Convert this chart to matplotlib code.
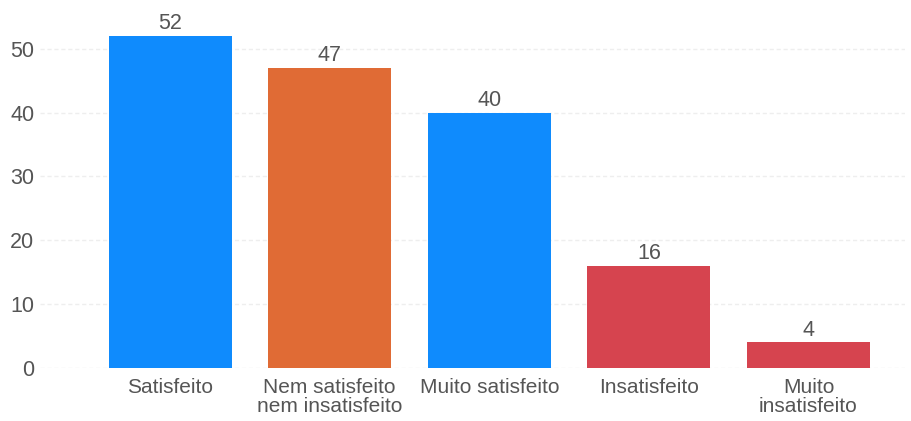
import matplotlib
matplotlib.use("Agg")
from matplotlib import pyplot as plt

categories = ["Satisfeito", "Nem satisfeito\nnem insatisfeito", "Muito satisfeito",
              "Insatisfeito", "Muito\ninsatisfeito"]
counts = [52, 47, 40, 16, 4]
colors = ["#0f8bfd", "#e06b35", "#0f8bfd", "#d6444f", "#d6444f"]

plt.rcParams["font.family"] = ["Liberation Sans", "DejaVu Sans"]

fig = plt.figure(figsize=(9.11, 4.21), dpi=100)
ax = fig.add_axes([40 / 911, 53 / 421, 865 / 911, 353 / 421])

x = list(range(len(categories)))
bars = ax.bar(x, counts, width=0.77, color=colors, zorder=2)
for b, v in zip(bars, counts):
    ax.text(b.get_x() + b.get_width() / 2, v + 0.3, str(v), ha="center", va="bottom",
            fontsize=15.5, color="#555555")

ax.set_xlim(-0.815, 4.605)
ax.set_ylim(0, 55.3)
ax.set_yticks([0, 10, 20, 30, 40, 50])
ax.set_xticks(x)
ax.set_xticklabels(categories, fontsize=15, color="#555555", linespacing=1.0)
ax.tick_params(axis="y", labelsize=15.5, labelcolor="#555555", length=0, pad=4)
ax.tick_params(axis="x", length=0, pad=7)
ax.grid(axis="y", color="#eeeeee", linewidth=1, linestyle=(0, (3, 2)), zorder=0)
for s in ax.spines.values():
    s.set_visible(False)

fig.savefig("out.png", dpi=100)
